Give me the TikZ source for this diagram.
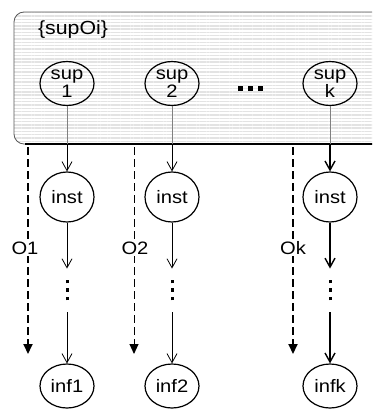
\documentclass[tikz,border=0pt]{standalone}
\usepackage{fontspec}
\setmainfont{Liberation Sans}[FakeStretch=1.12]
\usetikzlibrary{arrows.meta,patterns.meta,shapes.geometric}

\begin{document}
\begin{tikzpicture}[x=1pt,y=-1pt,
  every node/.style={font=\fontsize{18}{19}\selectfont},
  blob/.style={draw, ellipse, line width=1.2pt, inner sep=0pt, minimum width=54pt, align=center},
  supnode/.style={blob, minimum height=44pt},
  instnode/.style={blob, minimum height=50pt},
  infnode/.style={blob, minimum height=44pt},
  vdotsnode/.style={inner sep=0pt, align=center, font=\fontsize{8}{8.5}\selectfont},
  flow/.style={-{Straight Barb[length=9pt,width=10pt]}, line width=0.8pt},
  flowk/.style={flow, line width=1.4pt},
  inbox/.style={gray, line width=0.9pt},
  olink/.style={-{Triangle[length=10pt,width=9pt]}, dash pattern=on 8pt off 4pt, line width=2pt},
  olinkthin/.style={olink, line width=1pt},
  olabel/.style={fill=white, inner sep=1.5pt}
]
\clip (0,0) rectangle (372,412);

% container for the sup nodes
\fill[white, rounded corners=10pt] (14,12) rectangle (390,144);
\fill[pattern={Lines[angle=0,distance=3.3pt,line width=1.4pt]}, pattern color=gray!22,
      rounded corners=10pt] (14,12) rectangle (390,144);
\draw[gray!70!black, line width=0.8pt, rounded corners=10pt] (390,12) -- (14,12) -- (14,144) -- (390,144);
\draw[line width=2.2pt] (25,144) -- (390,144);
\coordinate (bb) at (0,144);
\node (lbl) at (73,30) [font=\fontsize{19}{19}\selectfont] {\{supOi\}};

% sup nodes
\node[supnode] (s1) at (67,83.5) {sup\\[-1pt]1};
\node[supnode] (s2) at (172,83.5) {sup\\[-1pt]2};
\node[supnode] (sk) at (330,83.5) {sup\\[-1pt]k};
\node (dots) at (250,88) {\rule{5pt}{5pt}\hspace{5pt}\rule{5pt}{5pt}\hspace{5pt}\rule{5pt}{5pt}};

% inst nodes
\node[instnode] (i1) at (67,197) {inst};
\node[instnode] (i2) at (172,197) {inst};
\node[instnode] (ik) at (330,197) {inst};

% vertical ellipses
\node[vdotsnode] (v1) at (67,290) {\rule{3pt}{3.5pt}\\\rule{3pt}{3.5pt}\\\rule{3pt}{3.5pt}};
\node[vdotsnode] (v2) at (172,290) {\rule{3pt}{3.5pt}\\\rule{3pt}{3.5pt}\\\rule{3pt}{3.5pt}};
\node[vdotsnode] (vk) at (330,290) {\rule{3pt}{3.5pt}\\\rule{3pt}{3.5pt}\\\rule{3pt}{3.5pt}};

% inf nodes
\node[infnode] (f1) at (67,386) {inf1};
\node[infnode] (f2) at (172,386) {inf2};
\node[infnode] (fk) at (330,386) {infk};

% sup -> inst
\draw[inbox] (s1.south) -- (s1 |- bb);
\draw[inbox] (s2.south) -- (s2 |- bb);
\draw[inbox] (sk.south) -- (sk |- bb);
\draw[flow] (s1 |- bb) -- (i1.north);
\draw[flow] (s2 |- bb) -- (i2.north);
\draw[flowk] (sk |- bb) -- (ik.north);

% inst -> ... -> inf
\draw[flow, shorten >=11pt] (i1.south) -- (v1.north);
\draw[flow, shorten >=11pt] (i2.south) -- (v2.north);
\draw[flowk, shorten >=11pt] (ik.south) -- (vk.north);
\draw[flow, shorten <=12pt] (v1.south) -- (f1.north);
\draw[flow, shorten <=12pt] (v2.south) -- (f2.north);
\draw[flowk, shorten <=12pt] (vk.south) -- (fk.north);

% object lanes
\coordinate (o1a) at (28,147);  \coordinate (o1b) at (28,354);
\coordinate (o2a) at (134,147); \coordinate (o2b) at (134,354);
\coordinate (oka) at (293,147); \coordinate (okb) at (293,354);
\draw[olink] (o1a) -- (o1b);
\draw[olinkthin] (o2a) -- (o2b);
\draw[olink] (oka) -- (okb);
\node[olabel] (l1) at (25,248) {O1};
\node[olabel] (l2) at (135,248) {O2};
\node[olabel] (lk) at (293,248) {Ok};
\end{tikzpicture}
\end{document}
